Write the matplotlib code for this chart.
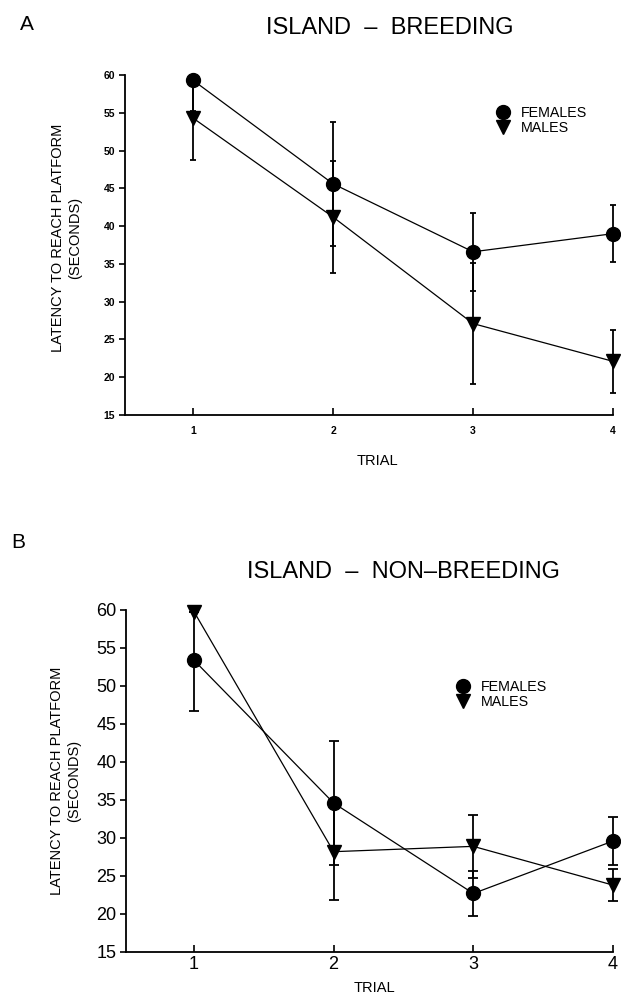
import matplotlib
matplotlib.use("Agg")
import matplotlib.pyplot as plt

plt.rcParams['font.family'] = ['Liberation Sans', 'DejaVu Sans']

# trial numbers
trials = [1, 2, 3, 4]

# panel A: island - breeding
a_fem = [59.3, 45.6, 36.6, 39.0]
a_fem_err = [4.0, 8.2, 5.2, 3.8]
a_male = [54.3, 41.2, 27.1, 22.1]
a_male_err = [5.5, 7.4, 8.0, 4.2]

# panel B: island - non-breeding
b_fem = [53.4, 34.6, 22.7, 29.6]
b_fem_err = [6.7, 8.1, 3.0, 3.2]
b_male = [59.8, 28.2, 28.9, 23.8]
b_male_err = [0.0, 6.4, 4.1, 2.1]

yticks = [15, 20, 25, 30, 35, 40, 45, 50, 55, 60]

W, H = 621, 998
fig = plt.figure(figsize=(W / 100, H / 100), dpi=100)


def px_axes(left, top, right, bottom):
	return fig.add_axes([left / W, 1 - bottom / H, (right - left) / W, (bottom - top) / H])


def draw_panel(ax, fem, fem_err, male, male_err, tick_fs, tick_weight, capsize, leg_xy, leg_fs):
	ax.set_xlim(0.514, 4.057)
	ax.set_ylim(15, 60)
	for sp in ['top', 'right']:
		ax.spines[sp].set_visible(False)
	ax.spines['bottom'].set_bounds(0.514, 4)
	for sp in ['left', 'bottom']:
		ax.spines[sp].set_linewidth(1.3)

	# error bars clipped at the top of the axis
	ax.errorbar(trials, fem, yerr=fem_err, fmt='none', ecolor='black',
				elinewidth=1.3, capsize=capsize, capthick=1.3)
	ax.errorbar(trials, male, yerr=male_err, fmt='none', ecolor='black',
				elinewidth=1.3, capsize=capsize, capthick=1.3)

	f_line, = ax.plot(trials, fem, color='black', lw=0.9, marker='o', ms=10,
					  mfc='black', mec='black', clip_on=False, label='FEMALES')
	m_line, = ax.plot(trials, male, color='black', lw=0.9, marker='v', ms=10.5,
					  mfc='black', mec='black', clip_on=False, label='MALES')

	ax.set_yticks(yticks)
	ax.set_xticks(trials)
	ax.tick_params(axis='y', direction='out', length=4, width=1.2, pad=3,
				   labelsize=tick_fs)
	ax.tick_params(axis='x', direction='in', length=5, width=1.2, labelsize=tick_fs)
	for lab in ax.get_xticklabels() + ax.get_yticklabels():
		lab.set_fontweight(tick_weight)

	ax.legend(handles=[f_line, m_line], labels=['FEMALES', 'MALES'],
			  loc='upper left', bbox_to_anchor=(leg_xy[0] / W, 1 - leg_xy[1] / H),
			  bbox_transform=fig.transFigure, frameon=False, fontsize=leg_fs,
			  handlelength=0.9, handletextpad=0.8, labelspacing=0.05,
			  borderpad=0, borderaxespad=0)
	# legend handles with markers only
	for h in ax.get_legend().legend_handles:
		h.set_linestyle('none')


# ---- panel A ----
ax_a = px_axes(125, 75, 621, 415)
draw_panel(ax_a, a_fem, a_fem_err, a_male, a_male_err, 7.5, 'bold', 2.5,
		   (497, 106), 10.3)
ax_a.set_xlabel("TRIAL", fontsize=10.5)
ax_a.xaxis.set_label_coords((377 - 125) / 496, -0.115)
ax_a.set_ylabel("LATENCY TO REACH PLATFORM\n(SECONDS)", fontsize=10.5,
				linespacing=1.25)
ax_a.yaxis.set_label_coords((82 - 125) / 496, 0.52)
ax_a.tick_params(axis='x', pad=8)

fig.text(27 / W, 1 - 24 / H, "A", fontsize=15, ha='center', va='center')
fig.text(390 / W, 1 - 28 / H, "ISLAND  \u2013  BREEDING", fontsize=17,
		 ha='center', va='center')

# ---- panel B ----
ax_b = px_axes(126, 610, 621, 952)
draw_panel(ax_b, b_fem, b_fem_err, b_male, b_male_err, 13, 'normal', 3.5,
		   (457, 680), 10.3)
ax_b.set_xlabel("TRIAL", fontsize=10.5)
ax_b.xaxis.set_label_coords((374 - 126) / 495, -0.085)
ax_b.set_ylabel("LATENCY TO REACH PLATFORM\n(SECONDS)", fontsize=10.5,
				linespacing=1.25)
ax_b.yaxis.set_label_coords((81 - 126) / 495, 0.5)
ax_b.tick_params(axis='x', pad=3)

fig.text(18 / W, 1 - 542 / H, "B", fontsize=15, ha='center', va='center')
fig.text(403 / W, 1 - 572 / H, "ISLAND  \u2013  NON\u2013BREEDING", fontsize=17,
		 ha='center', va='center')

fig.savefig("out.png", dpi=100)
